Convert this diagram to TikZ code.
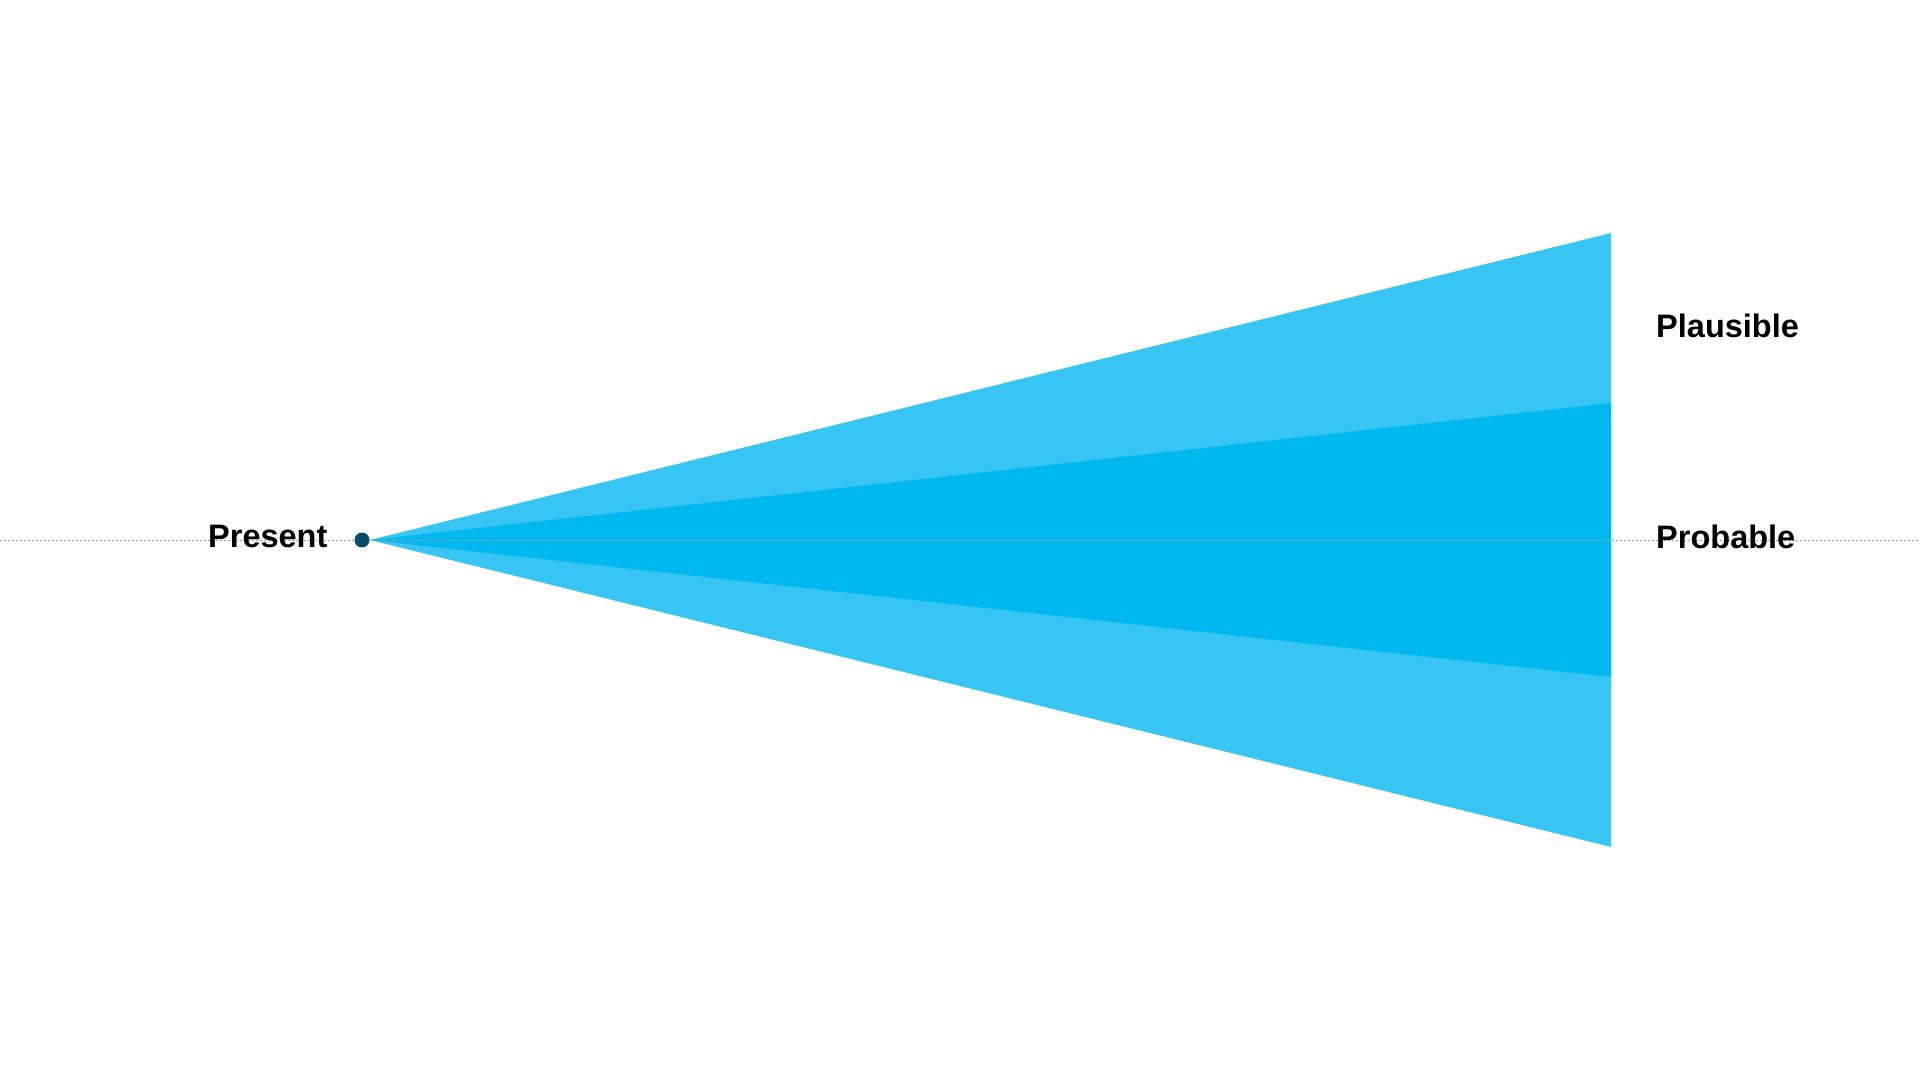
\documentclass[tikz,border=0pt]{standalone}
\usepackage{fontspec}
\setmainfont{Liberation Sans}
\definecolor{lightfan}{HTML}{38C5F3}
\definecolor{darkfan}{HTML}{00B8F0}
\definecolor{dotcol}{HTML}{004E6A}
\definecolor{guide}{HTML}{9A9A9A}
\tikzset{
  lbl/.style={font=\fontsize{32.5pt}{36pt}\selectfont\bfseries, text=black, inner sep=0pt, anchor=base west},
}
\begin{document}
\begin{tikzpicture}[x=1pt,y=-1pt]
\useasboundingbox (0,0) rectangle (1920,1080);
\fill[white] (0,0) rectangle (1920,1080);
\coordinate (apex) at (370,540);
\coordinate (tr) at (1611,233);
\coordinate (br) at (1611,847);
\coordinate (itr) at (1611,403);
\coordinate (ibr) at (1611,677);
\coordinate (L) at (0,540);
\coordinate (R) at (1920,540);
\fill[lightfan] (apex) -- (tr) -- (br) -- cycle;
\fill[darkfan] (apex) -- (itr) -- (ibr) -- cycle;
\draw[guide, line width=1pt, dash pattern=on 2pt off 2pt] (L) -- (R);
\fill[dotcol] (362,540) circle (7.5);
\node[lbl] (present) at (208,547) {Present};
\node[lbl] (plausible) at (1656,337) {Plausible};
\node[lbl] (probable) at (1656,548) {Probable};
\end{tikzpicture}
\end{document}
